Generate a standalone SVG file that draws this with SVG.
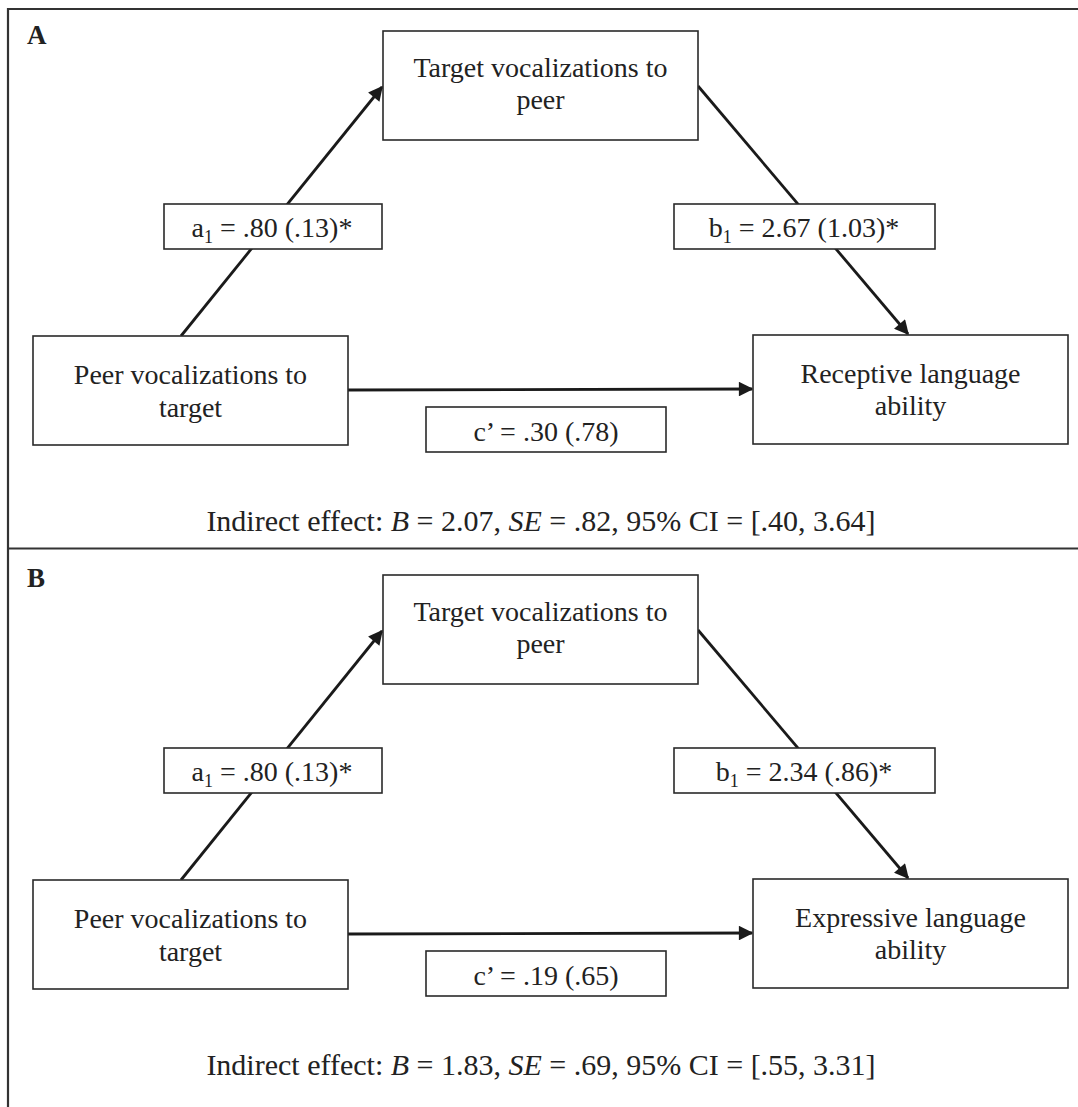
<svg xmlns="http://www.w3.org/2000/svg" width="1078" height="1107" viewBox="0 0 1078 1107">
<defs>
<style>
.frame{stroke:#333;stroke-width:2.2;fill:none}
.box{fill:#fff;stroke:#2a2a2a;stroke-width:1.6}
.lbl{fill:#fff;stroke:#2a2a2a;stroke-width:1.6}
.t{font-family:"Liberation Serif","Times New Roman",serif;font-size:28px;fill:#222;text-anchor:middle}
.ind{font-size:30px}
.sub{font-size:18px}
.panel{font-family:"Liberation Serif","Times New Roman",serif;font-size:27px;font-weight:bold;fill:#222}
.edge{stroke:#1a1a1a;stroke-width:2.8;fill:none}
</style>
<marker id="ah" viewBox="0 0 10 10" refX="9" refY="5" markerWidth="6" markerHeight="5.2" markerUnits="strokeWidth" orient="auto">
<path d="M0,0 L10,5 L0,10 z" fill="#1a1a1a"/>
</marker>
</defs>
<rect width="1078" height="1107" fill="#fff"/>
<g id="frame">
<path class="frame" d="M8,1107 V9 H1078"/>
<path class="frame" d="M8,548.5 H1078"/>
</g>
<!-- Panel A -->
<g id="panelA">
<text class="panel" x="27" y="44">A</text>
<g id="connectorsA">
<line class="edge" x1="181" y1="336" x2="382" y2="87" marker-end="url(#ah)"/>
<line class="edge" x1="698" y1="86" x2="908" y2="334" marker-end="url(#ah)"/>
<line class="edge" x1="348" y1="390" x2="752" y2="389" marker-end="url(#ah)"/>
</g>
<g id="A_target"><rect class="box" x="383" y="31" width="315" height="109"/><text class="t" x="540.5" y="77">Target vocalizations to</text><text class="t" x="540.5" y="109">peer</text></g>
<g id="A_peer"><rect class="box" x="33" y="336" width="315" height="109"/><text class="t" x="190.5" y="384">Peer vocalizations to</text><text class="t" x="190.5" y="417">target</text></g>
<g id="A_outcome"><rect class="box" x="753" y="335" width="315" height="109"/><text class="t" x="910.5" y="383">Receptive language</text><text class="t" x="910.5" y="415">ability</text></g>
<g id="A_a1"><rect class="lbl" x="164" y="204" width="218" height="45"/><text class="t" x="272" y="237">a<tspan class="sub" dy="6">1</tspan><tspan dy="-6"> = .80 (.13)*</tspan></text></g>
<g id="A_b1"><rect class="lbl" x="674" y="204" width="261" height="45"/><text class="t" x="804" y="237">b<tspan class="sub" dy="6">1</tspan><tspan dy="-6"> = 2.67 (1.03)*</tspan></text></g>
<g id="A_c"><rect class="lbl" x="426" y="407" width="240" height="45"/><text class="t" x="546" y="441">c’ = .30 (.78)</text></g>
<text class="t ind" x="541" y="531">Indirect effect: <tspan font-style="italic">B</tspan> = 2.07, <tspan font-style="italic">SE</tspan> = .82, 95% CI = [.40, 3.64]</text>
</g>
<!-- Panel B -->
<g id="panelB" transform="translate(0,544)">
<text class="panel" x="27" y="43">B</text>
<g id="connectorsB">
<line class="edge" x1="181" y1="336" x2="382" y2="87" marker-end="url(#ah)"/>
<line class="edge" x1="698" y1="86" x2="908" y2="334" marker-end="url(#ah)"/>
<line class="edge" x1="348" y1="390" x2="752" y2="389" marker-end="url(#ah)"/>
</g>
<g id="B_target"><rect class="box" x="383" y="31" width="315" height="109"/><text class="t" x="540.5" y="77">Target vocalizations to</text><text class="t" x="540.5" y="109">peer</text></g>
<g id="B_peer"><rect class="box" x="33" y="336" width="315" height="109"/><text class="t" x="190.5" y="384">Peer vocalizations to</text><text class="t" x="190.5" y="417">target</text></g>
<g id="B_outcome"><rect class="box" x="753" y="335" width="315" height="109"/><text class="t" x="910.5" y="383">Expressive language</text><text class="t" x="910.5" y="415">ability</text></g>
<g id="B_a1"><rect class="lbl" x="164" y="204" width="218" height="45"/><text class="t" x="272" y="237">a<tspan class="sub" dy="6">1</tspan><tspan dy="-6"> = .80 (.13)*</tspan></text></g>
<g id="B_b1"><rect class="lbl" x="674" y="204" width="261" height="45"/><text class="t" x="804" y="237">b<tspan class="sub" dy="6">1</tspan><tspan dy="-6"> = 2.34 (.86)*</tspan></text></g>
<g id="B_c"><rect class="lbl" x="426" y="407" width="240" height="45"/><text class="t" x="546" y="441">c’ = .19 (.65)</text></g>
<text class="t ind" x="541" y="531">Indirect effect: <tspan font-style="italic">B</tspan> = 1.83, <tspan font-style="italic">SE</tspan> = .69, 95% CI = [.55, 3.31]</text>
</g>
</svg>
